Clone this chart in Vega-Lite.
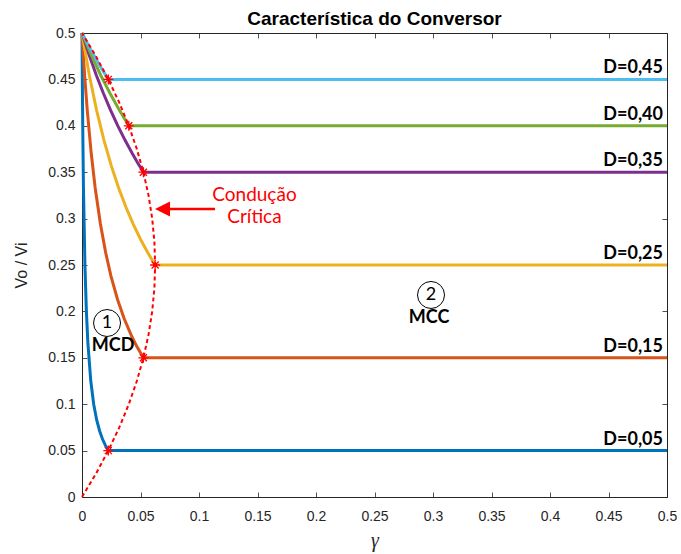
{
  "$schema": "https://vega.github.io/schema/vega-lite/v6.json",
  "width": 585,
  "height": 464,
  "autosize": "none",
  "padding": {"left": 82, "top": 33, "right": 14, "bottom": 57},
  "background": "white",
  "datasets": {
    "curves": [
      {"D": "0.05", "g": 0, "v": 0.5}, {"D": "0.05", "g": 0.0003125, "v": 0.4444}, {"D": "0.05", "g": 0.000625, "v": 0.4}, {"D": "0.05", "g": 0.00125, "v": 0.3333}, {"D": "0.05", "g": 0.0025, "v": 0.25}, {"D": "0.05", "g": 0.00375, "v": 0.2}, {"D": "0.05", "g": 0.005, "v": 0.1667}, {"D": "0.05", "g": 0.0075, "v": 0.125}, {"D": "0.05", "g": 0.01, "v": 0.1}, {"D": "0.05", "g": 0.0125, "v": 0.0833}, {"D": "0.05", "g": 0.015, "v": 0.0714}, {"D": "0.05", "g": 0.0175, "v": 0.0625}, {"D": "0.05", "g": 0.02, "v": 0.0556}, {"D": "0.05", "g": 0.0225, "v": 0.05}, {"D": "0.05", "g": 0.5, "v": 0.05},
      {"D": "0.15", "g": 0, "v": 0.5}, {"D": "0.15", "g": 0.00225, "v": 0.4545}, {"D": "0.15", "g": 0.0045, "v": 0.4167}, {"D": "0.15", "g": 0.007875, "v": 0.3704}, {"D": "0.15", "g": 0.01125, "v": 0.3333}, {"D": "0.15", "g": 0.01575, "v": 0.2941}, {"D": "0.15", "g": 0.02025, "v": 0.2632}, {"D": "0.15", "g": 0.02475, "v": 0.2381}, {"D": "0.15", "g": 0.030375, "v": 0.2128}, {"D": "0.15", "g": 0.036, "v": 0.1923}, {"D": "0.15", "g": 0.04275, "v": 0.1724}, {"D": "0.15", "g": 0.04725, "v": 0.1613}, {"D": "0.15", "g": 0.0525, "v": 0.15}, {"D": "0.15", "g": 0.5, "v": 0.15},
      {"D": "0.25", "g": 0, "v": 0.5}, {"D": "0.25", "g": 0.00625, "v": 0.4545}, {"D": "0.25", "g": 0.0125, "v": 0.4167}, {"D": "0.25", "g": 0.01875, "v": 0.3846}, {"D": "0.25", "g": 0.025, "v": 0.3571}, {"D": "0.25", "g": 0.03125, "v": 0.3333}, {"D": "0.25", "g": 0.0375, "v": 0.3125}, {"D": "0.25", "g": 0.04375, "v": 0.2941}, {"D": "0.25", "g": 0.05, "v": 0.2778}, {"D": "0.25", "g": 0.05625, "v": 0.2632}, {"D": "0.25", "g": 0.0625, "v": 0.25}, {"D": "0.25", "g": 0.5, "v": 0.25},
      {"D": "0.35", "g": 0, "v": 0.5}, {"D": "0.35", "g": 0.006125, "v": 0.4762}, {"D": "0.35", "g": 0.01225, "v": 0.4545}, {"D": "0.35", "g": 0.018375, "v": 0.4348}, {"D": "0.35", "g": 0.0245, "v": 0.4167}, {"D": "0.35", "g": 0.030625, "v": 0.4}, {"D": "0.35", "g": 0.03675, "v": 0.3846}, {"D": "0.35", "g": 0.042875, "v": 0.3704}, {"D": "0.35", "g": 0.047775, "v": 0.3597}, {"D": "0.35", "g": 0.0525, "v": 0.35}, {"D": "0.35", "g": 0.5, "v": 0.35},
      {"D": "0.40", "g": 0, "v": 0.5}, {"D": "0.40", "g": 0.008, "v": 0.4762}, {"D": "0.40", "g": 0.016, "v": 0.4545}, {"D": "0.40", "g": 0.024, "v": 0.4348}, {"D": "0.40", "g": 0.032, "v": 0.4167}, {"D": "0.40", "g": 0.04, "v": 0.4}, {"D": "0.40", "g": 0.5, "v": 0.4},
      {"D": "0.45", "g": 0, "v": 0.5}, {"D": "0.45", "g": 0.0075, "v": 0.4821}, {"D": "0.45", "g": 0.015, "v": 0.4653}, {"D": "0.45", "g": 0.0225, "v": 0.45}, {"D": "0.45", "g": 0.5, "v": 0.45}
    ],
    "boundary": [
      {"i": 0, "g": 0, "v": 0}, {"i": 1, "g": 0.011875, "v": 0.025}, {"i": 2, "g": 0.0225, "v": 0.05}, {"i": 3, "g": 0.031875, "v": 0.075}, {"i": 4, "g": 0.04, "v": 0.1}, {"i": 5, "g": 0.046875, "v": 0.125}, {"i": 6, "g": 0.0525, "v": 0.15}, {"i": 7, "g": 0.056875, "v": 0.175}, {"i": 8, "g": 0.06, "v": 0.2}, {"i": 9, "g": 0.061875, "v": 0.225}, {"i": 10, "g": 0.0625, "v": 0.25}, {"i": 11, "g": 0.061875, "v": 0.275}, {"i": 12, "g": 0.06, "v": 0.3}, {"i": 13, "g": 0.056875, "v": 0.325}, {"i": 14, "g": 0.0525, "v": 0.35}, {"i": 15, "g": 0.046875, "v": 0.375}, {"i": 16, "g": 0.04, "v": 0.4}, {"i": 17, "g": 0.031875, "v": 0.425}, {"i": 18, "g": 0.0225, "v": 0.45}, {"i": 19, "g": 0.011875, "v": 0.475}, {"i": 20, "g": 0, "v": 0.5}
    ],
    "stars": [
      {"g": 0.0225, "v": 0.05}, {"g": 0.0525, "v": 0.15}, {"g": 0.0625, "v": 0.25}, {"g": 0.0525, "v": 0.35}, {"g": 0.04, "v": 0.4}, {"g": 0.0225, "v": 0.45}
    ],
    "dlabels": [
      {"g": 0.5, "v": 0.45, "t": "D=0,45"}, {"g": 0.5, "v": 0.4, "t": "D=0,40"}, {"g": 0.5, "v": 0.35, "t": "D=0,35"}, {"g": 0.5, "v": 0.25, "t": "D=0,25"}, {"g": 0.5, "v": 0.15, "t": "D=0,15"}, {"g": 0.5, "v": 0.05, "t": "D=0,05"}
    ],
    "circles": [
      {"g": 0.0214, "v": 0.1875, "n": "1"}, {"g": 0.2983, "v": 0.2177, "n": "2"}
    ],
    "modes": [
      {"g": 0.0265, "v": 0.1577, "t": "MCD"}, {"g": 0.2966, "v": 0.1878, "t": "MCC"}
    ],
    "note": [
      {"g": 0.1474, "v": 0.3193, "t": "Condução"}, {"g": 0.1474, "v": 0.2949, "t": "Crítica"}
    ],
    "arrow": [
      {"g": 0.0688, "g2": 0.1137, "v": 0.3103}
    ],
    "titlerow": [
      {"g": 0.25, "v": 0.5, "t": "Característica do Conversor"}
    ],
    "axisrow": [
      {"g": 0, "v": 0}
    ]
  },
  "layer": [
    {
      "data": {"name": "curves"},
      "mark": {"type": "line", "strokeWidth": 3, "strokeCap": "butt"},
      "encoding": {
        "x": {"field": "g", "type": "quantitative", "scale": {"domain": [0, 0.5], "nice": false, "zero": false},
          "axis": {"orient": "bottom", "values": [0, 0.05, 0.1, 0.15, 0.2, 0.25, 0.3, 0.35, 0.4, 0.45, 0.5], "format": "~g", "title": "γ", "titleFont": "Liberation Serif", "titleFontStyle": "italic", "titleFontSize": 20, "titleFontWeight": "normal", "labelPadding": 17, "titlePadding": 7}},
        "y": {"field": "v", "type": "quantitative", "scale": {"domain": [0, 0.5], "nice": false, "zero": false},
          "axis": {"orient": "left", "values": [0, 0.05, 0.1, 0.15, 0.2, 0.25, 0.3, 0.35, 0.4, 0.45, 0.5], "format": "~g", "title": "Vo / Vi", "titleFont": "Liberation Sans", "titleFontSize": 16, "titleFontWeight": "normal", "labelPadding": 12, "titlePadding": 18}},
        "color": {"field": "D", "type": "nominal", "legend": null,
          "scale": {"domain": ["0.05", "0.15", "0.25", "0.35", "0.40", "0.45"], "range": ["#0072BD", "#D95319", "#EDB120", "#7E2F8E", "#77AC30", "#4DBEEE"]}}
      }
    },
    {
      "data": {"name": "boundary"},
      "mark": {"type": "line", "color": "#FF0000", "strokeWidth": 2, "strokeDash": [4, 3]},
      "encoding": {
        "x": {"field": "g", "type": "quantitative", "scale": {"domain": [0, 0.5], "nice": false, "zero": false}, "axis": null},
        "y": {"field": "v", "type": "quantitative", "scale": {"domain": [0, 0.5], "nice": false, "zero": false}, "axis": null},
        "order": {"field": "i", "type": "quantitative"}
      }
    },
    {
      "data": {"name": "stars"},
      "mark": {"type": "point", "shape": "M-1,0L1,0M0,-1L0,1M-0.7,-0.7L0.7,0.7M-0.7,0.7L0.7,-0.7", "filled": false, "stroke": "#FF0000", "strokeWidth": 1.3, "size": 100, "opacity": 1},
      "encoding": {
        "x": {"field": "g", "type": "quantitative", "scale": {"domain": [0, 0.5], "nice": false, "zero": false}, "axis": null},
        "y": {"field": "v", "type": "quantitative", "scale": {"domain": [0, 0.5], "nice": false, "zero": false}, "axis": null}
      }
    },
    {
      "data": {"name": "dlabels"},
      "mark": {"type": "text", "font": "Lato", "fontWeight": "bold", "fontSize": 18, "align": "right", "baseline": "alphabetic", "dx": -4, "dy": -6, "color": "#000000"},
      "encoding": {
        "x": {"field": "g", "type": "quantitative", "scale": {"domain": [0, 0.5], "nice": false, "zero": false}, "axis": null},
        "y": {"field": "v", "type": "quantitative", "scale": {"domain": [0, 0.5], "nice": false, "zero": false}, "axis": null},
        "text": {"field": "t"}
      }
    },
    {
      "data": {"name": "circles"},
      "mark": {"type": "point", "shape": "circle", "filled": false, "stroke": "#000000", "strokeWidth": 1, "size": 729, "opacity": 1},
      "encoding": {
        "x": {"field": "g", "type": "quantitative", "scale": {"domain": [0, 0.5], "nice": false, "zero": false}, "axis": null},
        "y": {"field": "v", "type": "quantitative", "scale": {"domain": [0, 0.5], "nice": false, "zero": false}, "axis": null}
      }
    },
    {
      "data": {"name": "circles"},
      "mark": {"type": "text", "font": "Lato", "fontSize": 18, "align": "center", "baseline": "middle", "color": "#000000"},
      "encoding": {
        "x": {"field": "g", "type": "quantitative", "scale": {"domain": [0, 0.5], "nice": false, "zero": false}, "axis": null},
        "y": {"field": "v", "type": "quantitative", "scale": {"domain": [0, 0.5], "nice": false, "zero": false}, "axis": null},
        "text": {"field": "n"}
      }
    },
    {
      "data": {"name": "modes"},
      "mark": {"type": "text", "font": "Lato", "fontWeight": "bold", "fontSize": 18, "align": "center", "baseline": "alphabetic", "color": "#000000"},
      "encoding": {
        "x": {"field": "g", "type": "quantitative", "scale": {"domain": [0, 0.5], "nice": false, "zero": false}, "axis": null},
        "y": {"field": "v", "type": "quantitative", "scale": {"domain": [0, 0.5], "nice": false, "zero": false}, "axis": null},
        "text": {"field": "t"}
      }
    },
    {
      "data": {"name": "note"},
      "mark": {"type": "text", "font": "Lato", "fontSize": 19, "align": "center", "baseline": "alphabetic", "color": "#FF0000"},
      "encoding": {
        "x": {"field": "g", "type": "quantitative", "scale": {"domain": [0, 0.5], "nice": false, "zero": false}, "axis": null},
        "y": {"field": "v", "type": "quantitative", "scale": {"domain": [0, 0.5], "nice": false, "zero": false}, "axis": null},
        "text": {"field": "t"}
      }
    },
    {
      "data": {"name": "arrow"},
      "mark": {"type": "rule", "color": "#FF0000", "strokeWidth": 2.5},
      "encoding": {
        "x": {"field": "g", "type": "quantitative", "scale": {"domain": [0, 0.5], "nice": false, "zero": false}, "axis": null},
        "x2": {"field": "g2"},
        "y": {"field": "v", "type": "quantitative", "scale": {"domain": [0, 0.5], "nice": false, "zero": false}, "axis": null}
      }
    },
    {
      "data": {"name": "arrow"},
      "mark": {"type": "point", "shape": "M-1,0L1,-1L1,1Z", "filled": true, "color": "#FF0000", "size": 225, "opacity": 1},
      "encoding": {
        "x": {"field": "g", "type": "quantitative", "scale": {"domain": [0, 0.5], "nice": false, "zero": false}, "axis": null},
        "y": {"field": "v", "type": "quantitative", "scale": {"domain": [0, 0.5], "nice": false, "zero": false}, "axis": null}
      }
    },
    {
      "data": {"name": "titlerow"},
      "mark": {"type": "text", "font": "Liberation Sans", "fontWeight": "bold", "fontSize": 19, "align": "center", "baseline": "alphabetic", "dy": -8, "color": "#000000"},
      "encoding": {
        "x": {"field": "g", "type": "quantitative", "scale": {"domain": [0, 0.5], "nice": false, "zero": false}, "axis": null},
        "y": {"field": "v", "type": "quantitative", "scale": {"domain": [0, 0.5], "nice": false, "zero": false}, "axis": null},
        "text": {"field": "t"}
      }
    },
    {
      "data": {"name": "axisrow"},
      "mark": {"type": "point", "opacity": 0},
      "encoding": {
        "x": {"field": "g", "type": "quantitative", "scale": {"domain": [0, 0.5], "nice": false, "zero": false},
          "axis": {"orient": "top", "values": [0, 0.05, 0.1, 0.15, 0.2, 0.25, 0.3, 0.35, 0.4, 0.45, 0.5], "labels": false, "title": null, "minExtent": 0, "maxExtent": 0}},
        "y": {"field": "v", "type": "quantitative", "scale": {"domain": [0, 0.5], "nice": false, "zero": false},
          "axis": {"orient": "right", "values": [0, 0.05, 0.1, 0.15, 0.2, 0.25, 0.3, 0.35, 0.4, 0.45, 0.5], "labels": false, "title": null, "minExtent": 0, "maxExtent": 0}}
      }
    }
  ],
  "resolve": {"axis": {"x": "independent", "y": "independent"}},
  "config": {
    "view": {"stroke": "#262626", "strokeWidth": 1},
    "axis": {"labelFont": "Liberation Sans", "labelFontSize": 14, "labelColor": "#262626", "tickColor": "#262626", "tickSize": -5, "tickWidth": 0.8, "domain": false, "grid": false, "titleColor": "#262626", "labelFlush": false, "labelOverlap": false}
  }
}
